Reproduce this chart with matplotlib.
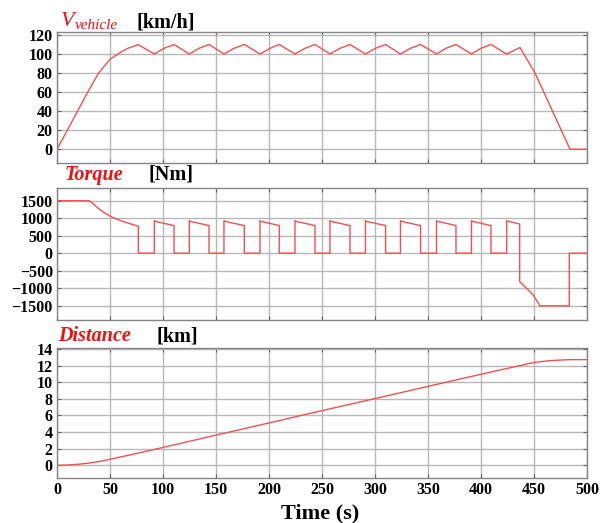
import numpy as np
import matplotlib
matplotlib.use("Agg")
import matplotlib.pyplot as plt

# ---- data ----
# Vehicle speed [km/h]
speed_t = [0, 10.7, 29.5, 39, 50, 61, 68, 76.7,
           91.8, 101, 110.4, 124.8, 134, 143.4, 157.5, 167, 176.7,
           191.5, 201, 209.7, 224.5, 234, 243.4, 257.5, 267, 276.4,
           291, 300.5, 310, 324, 333.5, 343, 358, 367, 376.4,
           391, 400, 409.4, 424.2, 436.8, 451, 484, 500]
speed_v = [0, 22, 61, 79.5, 94.5, 102.5, 106.5, 109.8,
           100, 106, 110, 100, 106, 110, 100, 106, 110,
           100, 106, 110, 100, 106, 110, 100, 106, 110,
           100, 106, 110, 100, 106, 110, 100, 106, 110,
           100, 106, 110, 100, 106.8, 80, 0, 0]

# Motor torque [Nm]
torque_t = [0, 0, 30.5, 35, 39, 44, 50, 55, 61, 68, 76.7, 76.7,
            91.8, 91.8, 93.3, 110.4, 110.4,
            124.8, 124.8, 126.3, 143.4, 143.4,
            157.5, 157.5, 159, 176.7, 176.7,
            191.5, 191.5, 193, 209.7, 209.7,
            224.5, 224.5, 226, 243.4, 243.4,
            257.5, 257.5, 259, 276.4, 276.4,
            291, 291, 292.5, 310, 310,
            324, 324, 325.5, 343, 343,
            358, 358, 359.5, 376.4, 376.4,
            391, 391, 392.5, 409.4, 409.4,
            424.2, 424.2, 436.5, 436.5, 443, 449.3, 455.7, 483.3, 483.3, 500]
torque_v = [0, 1500, 1500, 1390, 1281, 1170, 1061, 990, 918, 850, 774, 0,
            0, 930, 905, 790, 0,
            0, 930, 905, 790, 0,
            0, 930, 905, 790, 0,
            0, 930, 905, 790, 0,
            0, 930, 905, 790, 0,
            0, 930, 905, 790, 0,
            0, 930, 905, 790, 0,
            0, 930, 905, 790, 0,
            0, 930, 905, 790, 0,
            0, 930, 905, 790, 0,
            0, 927, 832, -813, -1004, -1195, -1505, -1505, 0, 0]

# Travelled distance [km]
dist_t = [0, 10, 20, 30, 40, 50, 75, 100, 150, 200, 250, 300,
          350, 400, 450, 465, 484, 500]
dist_v = [0, 0.03, 0.12, 0.26, 0.46, 0.72, 1.42, 2.15, 3.63, 5.1, 6.58, 8.03,
          9.5, 10.96, 12.38, 12.6, 12.72, 12.72]

time_ticks = list(range(0, 501, 50))
speed_ticks = list(range(0, 121, 20))
torque_ticks = list(range(-1500, 1501, 500))
dist_ticks = list(range(0, 15, 2))

# ---- figure ----
W, H = 601, 523
fig = plt.figure(figsize=(W / 100, H / 100), dpi=100)
serif = ["Liberation Serif", "DejaVu Serif"]
line_col = "#f25050"
grid_col = "#b8b8b8"
frame_col = "#858585"


def px_axes(top, bottom, left=57, right=587):
    return fig.add_axes([left / W, 1 - bottom / H, (right - left) / W, (bottom - top) / H])


def style(ax, yticks, ylim, show_x):
    ax.set_xlim(0, 500)
    ax.set_ylim(*ylim)
    ax.set_xticks(time_ticks)
    ax.set_yticks(yticks)
    ax.grid(True, color=grid_col, linewidth=1.0)
    ax.set_axisbelow(True)
    for s in ax.spines.values():
        s.set_color(frame_col)
        s.set_linewidth(1.0)
    ax.tick_params(direction="in", length=3, color="#606060", top=True, right=True,
                   labelsize=11.5, pad=3)
    if not show_x:
        ax.tick_params(labelbottom=False)
    for lab in ax.get_xticklabels() + ax.get_yticklabels():
        lab.set_fontfamily(serif)
        lab.set_fontweight("bold")


ax1 = px_axes(32, 163)
ax1.plot(speed_t, speed_v, color=line_col, linewidth=1.0)
style(ax1, speed_ticks, (-14.4, 123.1), False)

ax2 = px_axes(188, 320)
ax2.plot(torque_t, torque_v, color=line_col, linewidth=1.0)
style(ax2, torque_ticks, (-1909, 1863), False)

ax3 = px_axes(348, 478)
ax3.plot(dist_t, dist_v, color=line_col, linewidth=1.0)
style(ax3, dist_ticks, (-1.53, 14.12), True)


def ftext(x, y, s, **kw):
    fig.text(x / W, 1 - y / H, s, family=serif, va="baseline", ha="left", **kw)


red = "#f01010"
ftext(61, 26, "V", color=red, style="italic", fontsize=16)
ftext(75, 29, "vehicle", color=red, style="italic", fontsize=11)
ftext(137, 27, "[km/h]", color="black", weight="bold", fontsize=14.5)

ftext(65, 180, "Torque", color=red, style="italic", weight="bold", fontsize=14.5)
ftext(149, 180, "[Nm]", color="black", weight="bold", fontsize=14.5)

ftext(58, 341, "Distance", color=red, style="italic", weight="bold", fontsize=14.5)
ftext(157, 341, "[km]", color="black", weight="bold", fontsize=14.5)

fig.text(320 / W, 1 - 518 / H, "Time (s)", family=serif, weight="bold", fontsize=16,
         ha="center", va="baseline")

fig.savefig("out.png", dpi=100)
